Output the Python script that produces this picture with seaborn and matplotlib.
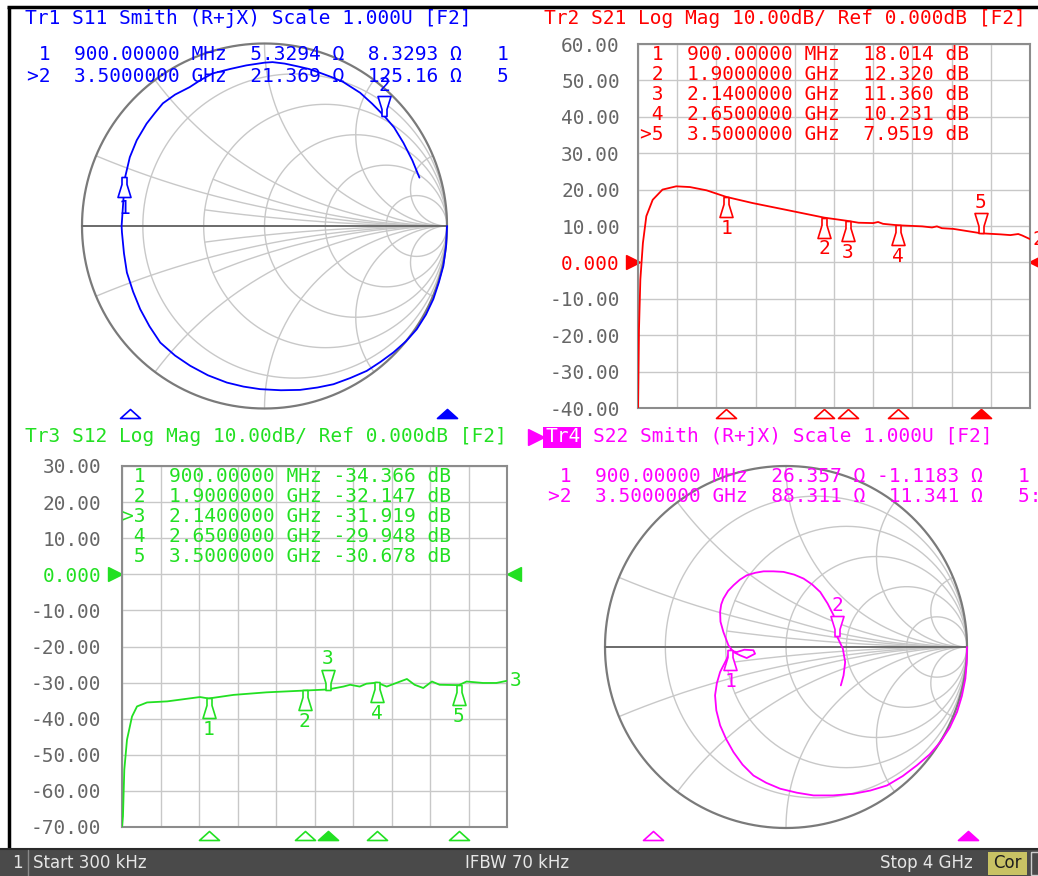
import numpy as np
import matplotlib
matplotlib.use("Agg")
import matplotlib.pyplot as plt
import matplotlib.transforms as mtransforms
from matplotlib.path import Path
from matplotlib.patches import Rectangle
import seaborn as sns

# ---------------- data ----------------
# S21 trace (GHz, dB)
s21_f = [0.0003, 0.01, 0.024, 0.05, 0.085, 0.15, 0.25, 0.39, 0.53, 0.70, 0.90, 1.17, 1.50, 1.90,
         2.14, 2.25, 2.40, 2.45, 2.50, 2.65, 2.90, 3.00, 3.05, 3.10, 3.22, 3.50, 3.70, 3.80, 3.88,
         3.92, 4.00]
s21_db = [-40.0, -18.5, -4.7, 5.3, 12.7, 17.2, 20.0, 20.9, 20.7, 19.8, 18.0, 16.3, 14.5, 12.3,
          11.4, 10.9, 10.8, 11.1, 10.6, 10.2, 9.9, 9.6, 9.9, 9.4, 9.2, 8.0, 7.7, 7.5, 7.8,
          7.4, 6.4]

# S12 trace (GHz, dB)
s12_f = [0.0003, 0.01, 0.024, 0.052, 0.104, 0.156, 0.26, 0.47, 0.81, 0.90, 1.16, 1.50, 1.90,
         2.14, 2.30, 2.37, 2.47, 2.54, 2.65, 2.75, 2.89, 2.96, 3.04, 3.13, 3.22, 3.30, 3.50,
         3.58, 3.75, 3.89, 4.00]
s12_db = [-70.0, -67.0, -54.1, -45.8, -39.4, -36.6, -35.5, -35.2, -34.0, -34.4, -33.4, -32.7,
          -32.2, -31.9, -31.1, -30.6, -31.1, -30.3, -30.0, -31.1, -29.7, -29.0, -30.6, -31.5,
          -29.7, -30.6, -30.7, -29.7, -30.1, -30.1, -29.5]

# S11 trace, reflection coefficient (re, im)
s11_re = [1.0, 0.995, 0.98, 0.955, 0.925, 0.885, 0.834, 0.775, 0.706, 0.635, 0.56, 0.47, 0.378,
          0.29, 0.195, 0.09, -0.024, -0.115, -0.206, -0.31, -0.407, -0.49, -0.571, -0.63, -0.681,
          -0.72, -0.754, -0.77, -0.781, -0.783, -0.765, -0.738, -0.70, -0.646, -0.60, -0.557,
          -0.49, -0.41, -0.35, -0.284, -0.19, -0.1, 0.0, 0.044, 0.11, 0.18, 0.245, 0.305, 0.37,
          0.43, 0.524, 0.59, 0.656, 0.71, 0.761, 0.81, 0.849]
s11_im = [0.0, -0.11, -0.219, -0.31, -0.401, -0.485, -0.566, -0.632, -0.693, -0.745, -0.794,
          -0.833, -0.867, -0.885, -0.898, -0.900, -0.894, -0.880, -0.858, -0.818, -0.766, -0.71,
          -0.639, -0.55, -0.456, -0.36, -0.255, -0.15, -0.036, 0.0, 0.262, 0.377, 0.47, 0.561,
          0.62, 0.672, 0.72, 0.761, 0.80, 0.836, 0.86, 0.88, 0.895, 0.898, 0.89, 0.875, 0.86,
          0.839, 0.815, 0.79, 0.730, 0.67, 0.603, 0.54, 0.456, 0.36, 0.265]

# S22 trace, reflection coefficient (re, im)
s22_re = [1.0, 0.998, 0.991, 0.972, 0.945, 0.905, 0.853, 0.793, 0.723, 0.645, 0.558, 0.466,
          0.373, 0.26, 0.152, 0.06, -0.032, -0.11, -0.180, -0.24, -0.290, -0.33, -0.364, -0.385,
          -0.392, -0.382, -0.364, -0.327, -0.309, -0.272, -0.230, -0.180, -0.171, -0.217,
          -0.254, -0.290, -0.318, -0.346, -0.362, -0.364, -0.358, -0.346, -0.32, -0.290, -0.255,
          -0.217, -0.17, -0.124, -0.07, -0.014, 0.045, 0.097, 0.145, 0.189, 0.23, 0.263, 0.275,
          0.282, 0.314, 0.327, 0.318, 0.303]
s22_im = [0.0, -0.09, -0.175, -0.27, -0.359, -0.445, -0.525, -0.594, -0.654, -0.713, -0.765,
          -0.793, -0.811, -0.82, -0.820, -0.805, -0.783, -0.75, -0.710, -0.65, -0.581, -0.51,
          -0.433, -0.35, -0.267, -0.2, -0.138, -0.065, -0.019, -0.028, -0.015, -0.018, -0.037,
          -0.061, -0.046, -0.028, 0.009, 0.083, 0.14, 0.194, 0.235, 0.267, 0.31, 0.341, 0.372,
          0.396, 0.41, 0.418, 0.418, 0.415, 0.40, 0.378, 0.345, 0.304, 0.24, 0.175, 0.11, 0.059,
          -0.009, -0.083, -0.157, -0.212]

# marker readouts
mk_freq_txt = ["900.00000", "1.9000000", "2.1400000", "2.6500000", "3.5000000"]
mk_unit = ["MHz", "GHz", "GHz", "GHz", "GHz"]
mk_f = [0.9, 1.9, 2.14, 2.65, 3.5]
s21_mk = ["18.014", "12.320", "11.360", "10.231", "7.9519"]
s12_mk = ["-34.366", "-32.147", "-31.919", "-29.948", "-30.678"]

sm_freq_txt = ["900.00000", "3.5000000"]
sm_unit = ["MHz", "GHz"]
sm_f = [0.9, 3.5]
s11_R = ["5.3294", "21.369"]
s11_X = ["8.3293", "125.16"]
s22_R = ["26.357", "88.311"]
s22_X = ["-1.1183", "11.341"]
s11_tail = ["1", "5"]
s22_tail = ["1", "5:"]

BLUE, RED, GREEN, MAG = "#0000ff", "#ff0000", "#22e022", "#ff00ff"
GRID, TICK = "#c8c8c8", "#666666"
W, H = 1038, 876

sns.set_theme(style="white")
plt.rcParams["font.family"] = ["DejaVu Sans Mono", "DejaVu Sans"]
FS = 14

fig = plt.figure(figsize=(W / 100, H / 100), dpi=100)
fig.patch.set_facecolor("white")


def px_axes(x0, y0, x1, y1, **kw):
    return fig.add_axes([x0 / W, 1 - y1 / H, (x1 - x0) / W, (y1 - y0) / H], **kw)


below = Path([(-2.5, 0), (2.5, 0), (2.5, -7), (6.5, -20), (-6.5, -20), (-2.5, -7), (-2.5, 0)],
             closed=True)
above = Path([(-2.5, 0), (2.5, 0), (2.5, 7), (6.5, 20), (-6.5, 20), (-2.5, 7), (-2.5, 0)],
             closed=True)
strip_tri = Path([(-10, 0), (10, 0), (0, 9), (-10, 0)], closed=True)


def trace_marker(ax, x, y, n, active, color):
    path = above if active else below
    ax.plot([x], [y], marker=path, ms=28.8, mfc="white", mec=color, mew=1.2,
            clip_on=False, zorder=5)
    dy = 22 if active else -22.5
    ax.annotate(str(n), (x, y), xytext=(0, dy), textcoords="offset points", ha="center",
                va="center", color=color, fontsize=FS, zorder=6)


def strip(ax, fr, active_idx, color, ybase, trans):
    for i, f in enumerate(fr):
        ax.plot([f], [ybase], marker=strip_tri, ms=14.4, mec=color, mew=1.2,
                mfc=color if i == active_idx else "white", transform=trans, clip_on=False)


def rect_panel(box, ymin, f, db, color, vals, active_idx, pad, ref_l, ref_r, endlab, ybase):
    ax = px_axes(*box)
    sns.lineplot(x=f, y=db, ax=ax, color=color, lw=1.3, sort=False, estimator=None, zorder=3)
    ax.set_xlim(0, 4)
    ax.set_ylim(ymin, ymin + 100)
    ax.set_xticks(np.arange(0, 4.01, 0.4))
    ax.set_xticklabels([])
    yt = np.arange(ymin, ymin + 101, 10)
    ax.set_yticks(yt)
    ax.set_yticklabels(["0.000" if v == 0 else f"{v:.2f}" for v in yt])
    ax.tick_params(length=0, pad=pad, labelsize=FS, labelcolor=TICK)
    for lab in ax.get_yticklabels():
        if lab.get_text() == "0.000":
            lab.set_color(color)
    ax.set_xlabel("")
    ax.set_ylabel("")
    ax.grid(True, color=GRID, lw=1)
    for s in ax.spines.values():
        s.set_color("#8c8c8c")
        s.set_linewidth(1.5)
    for i, (fm, v) in enumerate(zip(mk_f, vals)):
        trace_marker(ax, fm, float(v), i + 1, i == active_idx, color)
    bl = mtransforms.blended_transform_factory(ax.transAxes, ax.transData)
    ax.plot([ref_l], [0], marker=">", ms=10, color=color, transform=bl, clip_on=False)
    ax.plot([ref_r], [0], marker="<", ms=10, color=color, transform=bl, clip_on=False)
    ax.annotate(endlab, (f[-1], db[-1]), xytext=(2, 0), textcoords="offset points",
                ha="left", va="center", color=color, fontsize=FS, annotation_clip=False)
    strip(ax, mk_f, active_idx, color, ybase,
          mtransforms.blended_transform_factory(ax.transData, ax.transAxes))
    return ax


def smith_grid(ax):
    t = np.linspace(0, 2 * np.pi, 361)
    for r in [0.2, 0.5, 1, 2, 5]:
        c, rad = r / (1 + r), 1 / (1 + r)
        ax.plot(c + rad * np.cos(t), rad * np.sin(t), color=GRID, lw=1, zorder=1)
    rr = np.concatenate([[0], np.logspace(-3, 3, 500)])
    for xv in [0.2, 0.5, 1, 2, 5]:
        for s in (1, -1):
            g = (rr + 1j * s * xv - 1) / (rr + 1j * s * xv + 1)
            ax.plot(g.real, g.imag, color=GRID, lw=1, zorder=1)
    # shorter arcs that stop near the right-hand side
    rp = np.linspace(0.5, 10, 300)
    for xv in [0.1, 0.3]:
        for s in (1, -1):
            g = (rp + 1j * s * xv - 1) / (rp + 1j * s * xv + 1)
            ax.plot(g.real, g.imag, color=GRID, lw=1, zorder=1)
    ax.plot(np.cos(t), np.sin(t), color="#7a7a7a", lw=1.6, zorder=2)
    ax.plot([-1, 1], [0, 0], color="#6a6a6a", lw=1.4, zorder=2)


def smith_panel(cx, cy, r, re, im, color, R, X, stripbox):
    k = 1.15
    ax = px_axes(cx - k * r, cy - k * r, cx + k * r, cy + k * r)
    ax.patch.set_alpha(0)
    ax.set_xlim(-k, k)
    ax.set_ylim(-k, k)
    ax.axis("off")
    smith_grid(ax)
    sns.lineplot(x=re, y=im, ax=ax, color=color, lw=1.3, sort=False, estimator=None, zorder=3)
    for i in range(2):
        z = complex(float(R[i]), float(X[i])) / 50.0
        g = (z - 1) / (z + 1)
        trace_marker(ax, g.real, g.imag, i + 1, i == 1, color)
    sx = px_axes(*stripbox)
    sx.patch.set_alpha(0)
    sx.set_xlim(0, 4)
    sx.set_ylim(0, 1)
    sx.axis("off")
    strip(sx, sm_f, 1, color, 0, sx.transData)
    return ax


# ---------------- panels ----------------
rect_panel((638, 44, 1030, 408), -40, s21_f, s21_db, RED, s21_mk, 4, 13, -0.014, 1.015, "2",
           -0.0275)
rect_panel((122, 466, 507, 827), -70, s12_f, s12_db, GREEN, s12_mk, 2, 15, -0.018, 1.018, "3",
           -0.037)
smith_panel(264.5, 226, 182.5, s11_re, s11_im, BLUE, s11_R, s11_X, (20, 400, 508, 418))
smith_panel(786, 647, 181, s22_re, s22_im, MAG, s22_R, s22_X, (544, 822, 1029, 840))

# ---------------- overlay: texts, frame, status bar ----------------
bg = fig.add_axes([0, 0, 1, 1], zorder=10)
bg.set_xlim(0, W)
bg.set_ylim(H, 0)
bg.axis("off")
bg.patch.set_alpha(0)

bg.plot([8.5, 8.5], [848, 6.5], color="black", lw=2.5, solid_capstyle="butt")
bg.plot([7, W], [6.5, 6.5], color="black", lw=2.5, solid_capstyle="butt")

bg.text(25, 18, "Tr1 S11 Smith (R+jX) Scale 1.000U [F2]", color=BLUE, fontsize=FS, va="center")
bg.text(544, 18, "Tr2 S21 Log Mag 10.00dB/ Ref 0.000dB [F2]", color=RED, fontsize=FS,
        va="center")
bg.text(25, 437, "Tr3 S12 Log Mag 10.00dB/ Ref 0.000dB [F2]", color=GREEN, fontsize=FS,
        va="center")
bg.add_patch(Rectangle((543, 427), 38, 21, color=MAG, lw=0))
bg.plot([536], [437], marker=">", ms=11, color=MAG)
bg.text(546, 437, "Tr4", color="white", fontsize=FS, va="center")
bg.text(593, 437, "S22 Smith (R+jX) Scale 1.000U [F2]", color=MAG, fontsize=FS, va="center")

for i in range(2):
    pre = ">2" if i == 1 else " 1"
    row = f"{pre}  {sm_freq_txt[i]} {sm_unit[i]} {s11_R[i]:>7} Ω {s11_X[i]:>7} Ω   {s11_tail[i]}"
    bg.text(27, 55 + 21 * i, row, color=BLUE, fontsize=FS, va="center")
    row = f"{pre}  {sm_freq_txt[i]} {sm_unit[i]} {s22_R[i]:>7} Ω {s22_X[i]:>7} Ω   {s22_tail[i]}"
    bg.text(548, 477 + 20 * i, row, color=MAG, fontsize=FS, va="center")

for i in range(5):
    pre = (">" if i == 4 else " ") + str(i + 1)
    bg.text(640, 55 + 20 * i, f"{pre}  {mk_freq_txt[i]} {mk_unit[i]} {s21_mk[i]:>7} dB",
            color=RED, fontsize=FS, va="center")
    pre = (">" if i == 2 else " ") + str(i + 1)
    bg.text(122, 477 + 20 * i, f"{pre}  {mk_freq_txt[i]} {mk_unit[i]} {s12_mk[i]:>7} dB",
            color=GREEN, fontsize=FS, va="center")

# status bar
bg.add_patch(Rectangle((0, 848), W, 28, color="#4a4a4a", lw=0))
bg.plot([0, W], [848.5, 848.5], color="#2a2a2a", lw=1.5)
bg.plot([28, 28], [850, 876], color="#8a8a8a", lw=1)
sb = dict(color="#e6e6e6", fontsize=12, va="center", family="DejaVu Sans")
bg.text(12, 863, "1", **sb)
bg.text(33, 863, "Start 300 kHz", **sb)
bg.text(517, 863, "IFBW 70 kHz", ha="center", **sb)
bg.text(973, 863, "Stop 4 GHz", ha="right", **sb)
bg.add_patch(Rectangle((988, 852), 39, 23, color="#c8c264", lw=0))
bg.text(1007.5, 863.5, "Cor", ha="center", va="center", color="#1e1e1e", fontsize=12,
        family="DejaVu Sans")
bg.add_patch(Rectangle((1031, 852), 12, 23, fill=False, ec="#cccccc", lw=1))

fig.savefig("out.png", dpi=100, facecolor="white")
